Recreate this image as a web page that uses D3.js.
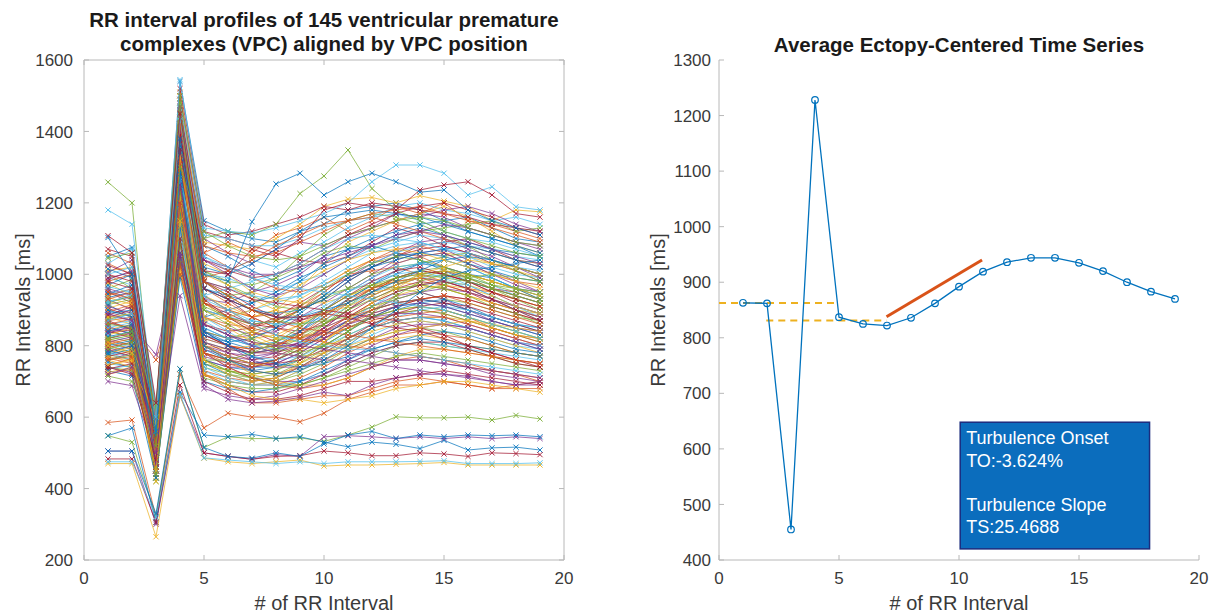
<!DOCTYPE html>
<html>
<head>
<meta charset="utf-8">
<script src="https://cdnjs.cloudflare.com/ajax/libs/d3/7.8.5/d3.min.js"></script>
<style>
  html, body { margin: 0; padding: 0; background: #fff; }
  svg { display: block; font-family: Helvetica, "Liberation Sans", Arial, sans-serif; }
  .tick-label { fill: #3a3a3a; font-size: 17px; }
  .axis-label { fill: #3a3a3a; font-size: 20px; }
  .title { fill: #1a1a1a; font-weight: bold; font-size: 20.5px; }
</style>
</head>
<body>
<svg id="fig" width="1212" height="613"></svg>
<script>
/* RR interval profiles (left) and averaged ectopy-centered series (right) */

// beat index along the x axis
const rrIndex = [1, 2, 3, 4, 5, 6, 7, 8, 9, 10, 11, 12, 13, 14, 15, 16, 17, 18, 19];

// MATLAB default line colour order
const matlabColors = ['#0072BD', '#D95319', '#EDB120', '#7E2F8E', '#77AC30', '#4DBEEE', '#A2142F'];

// individual VPC profiles (ms)
const profilesOutliers = [
    [1258, 1200, 520, 1300, 1100, 1120, 1110, 1140, 1226, 1275, 1348, 1240, 1180, 1150, 1120, 1100, 1080, 1060, 1050],
    [1180, 1140, 600, 1545, 1130, 1120, 1115, 1130, 1150, 1170, 1200, 1259, 1306, 1306, 1283, 1222, 1245, 1189, 1180],
    [1108, 1060, 640, 1450, 1010, 1000, 1070, 1050, 1100, 1180, 1200, 1190, 1180, 1236, 1250, 1259, 1222, 1170, 1160],
    [1103, 1000, 560, 1380, 1000, 980, 1147, 1253, 1283, 1222, 1259, 1283, 1259, 1230, 1236, 1180, 1150, 1130, 1110]
];

const profilesMainA = [
    [1050, 1075, 610, 1540, 1150, 1120, 1100, 1090, 1120, 1140, 1180, 1190, 1200, 1180, 1150, 1160, 1130, 1100, 1090],
    [1010, 1020, 480, 1450, 1090, 1080, 1070, 1100, 1140, 1190, 1210, 1215, 1200, 1220, 1205, 1190, 1150, 1180, 1175],
    [1000, 960, 560, 1300, 980, 940, 950, 990, 1050, 1110, 1150, 1170, 1160, 1140, 1110, 1080, 1040, 1020, 1000],
    [990, 1005, 450, 1500, 1120, 1100, 1080, 1060, 1040, 1030, 1050, 1090, 1130, 1110, 1080, 1060, 1030, 1010, 980],
    [975, 940, 600, 1380, 940, 900, 880, 900, 960, 1030, 1090, 1120, 1150, 1170, 1190, 1160, 1120, 1080, 1060],
    [960, 985, 520, 1420, 1010, 980, 970, 990, 1020, 1060, 1080, 1070, 1100, 1120, 1130, 1140, 1150, 1120, 1130],
    [950, 920, 470, 1200, 900, 880, 860, 870, 900, 930, 980, 1020, 1050, 1080, 1090, 1100, 1070, 1040, 1020],
    [940, 960, 590, 1470, 1060, 1020, 990, 960, 950, 970, 1010, 1040, 1060, 1050, 1020, 1000, 980, 960, 950],
    [930, 900, 540, 1330, 880, 850, 830, 840, 880, 920, 960, 1000, 1040, 1060, 1070, 1040, 1010, 980, 950],
    [925, 935, 430, 1250, 900, 880, 900, 920, 940, 980, 1020, 1060, 1080, 1090, 1070, 1050, 1020, 1000, 990],
    [915, 880, 500, 1160, 850, 820, 800, 810, 840, 880, 930, 970, 1010, 1030, 1020, 1000, 990, 960, 940],
    [905, 925, 620, 1510, 1030, 1000, 950, 930, 920, 920, 940, 960, 980, 970, 960, 940, 920, 900, 890],
    [900, 870, 460, 1100, 820, 800, 780, 790, 830, 870, 910, 950, 980, 990, 1000, 970, 940, 910, 880],
    [890, 900, 560, 1380, 960, 940, 920, 940, 980, 1030, 1070, 1080, 1060, 1040, 1010, 980, 960, 940, 920],
    [880, 860, 510, 1280, 860, 830, 810, 800, 820, 850, 880, 920, 950, 970, 990, 1000, 980, 960, 930],
    [875, 890, 420, 1220, 840, 820, 840, 860, 900, 940, 960, 970, 960, 950, 930, 920, 900, 880, 870],
    [870, 845, 580, 1450, 980, 930, 880, 850, 840, 860, 890, 930, 960, 980, 970, 950, 920, 900, 880],
    [860, 875, 495, 1180, 820, 800, 790, 800, 830, 880, 930, 960, 990, 1000, 1010, 990, 960, 940, 920],
    [855, 830, 450, 1050, 790, 770, 760, 780, 810, 850, 880, 910, 940, 950, 930, 900, 870, 850, 830],
    [850, 865, 530, 1320, 900, 880, 870, 860, 880, 910, 950, 990, 1020, 1030, 1040, 1020, 990, 960, 950],
    [845, 820, 610, 1400, 940, 900, 860, 830, 820, 840, 860, 890, 910, 930, 940, 930, 910, 890, 870],
    [840, 850, 470, 1150, 800, 780, 770, 780, 810, 850, 900, 940, 970, 990, 980, 960, 930, 900, 880],
    [830, 815, 520, 1250, 850, 820, 800, 810, 850, 900, 950, 980, 1000, 1010, 990, 960, 930, 900, 870],
    [825, 840, 440, 1030, 760, 740, 730, 740, 770, 810, 850, 880, 900, 920, 930, 910, 880, 860, 840],
    [820, 800, 560, 1350, 900, 870, 840, 820, 810, 820, 850, 880, 900, 910, 900, 880, 860, 840, 820],
    [815, 830, 500, 1200, 810, 790, 780, 790, 820, 860, 900, 930, 960, 970, 960, 940, 910, 890, 860],
    [810, 790, 460, 1120, 780, 760, 750, 760, 790, 830, 870, 900, 920, 930, 920, 900, 880, 860, 840],
    [805, 820, 590, 1460, 960, 920, 880, 850, 830, 830, 850, 870, 890, 900, 890, 870, 850, 830, 820],
    [800, 780, 430, 1000, 740, 720, 710, 720, 750, 790, 830, 860, 890, 900, 890, 870, 850, 830, 810],
    [795, 810, 540, 1270, 830, 800, 780, 780, 800, 840, 880, 920, 950, 970, 980, 960, 930, 900, 870],
    [790, 770, 510, 1150, 780, 750, 730, 720, 740, 770, 810, 850, 880, 890, 900, 880, 850, 830, 810],
    [785, 800, 470, 1080, 760, 740, 740, 750, 780, 820, 860, 880, 890, 890, 880, 860, 840, 820, 800],
    [780, 760, 600, 1370, 880, 840, 800, 780, 770, 780, 800, 830, 860, 870, 860, 840, 820, 800, 790],
    [775, 790, 450, 1060, 750, 720, 700, 710, 740, 780, 820, 850, 870, 880, 870, 850, 830, 810, 790],
    [770, 755, 520, 1220, 800, 770, 750, 740, 750, 780, 810, 840, 860, 870, 860, 840, 820, 800, 780],
    [760, 775, 480, 1100, 760, 730, 710, 700, 720, 750, 790, 820, 840, 850, 840, 820, 800, 780, 770],
    [755, 740, 570, 1300, 840, 800, 770, 750, 740, 750, 770, 790, 810, 830, 840, 830, 810, 790, 780],
    [745, 760, 430, 1010, 720, 700, 690, 700, 730, 760, 790, 810, 820, 830, 820, 800, 790, 780, 770],
    [740, 730, 500, 1180, 760, 730, 710, 690, 690, 710, 740, 770, 800, 810, 800, 790, 770, 750, 740],
    [735, 750, 460, 1040, 720, 690, 670, 670, 690, 720, 750, 780, 800, 810, 810, 790, 770, 750, 740],
    [720, 735, 540, 1250, 780, 740, 710, 690, 680, 690, 710, 740, 760, 770, 760, 750, 730, 720, 710],
    [700, 688, 490, 940, 680, 660, 650, 660, 680, 700, 720, 740, 760, 760, 750, 740, 720, 710, 700],
    [1030, 1070, 630, 1480, 1110, 1100, 1080, 1080, 1100, 1130, 1150, 1160, 1170, 1150, 1120, 1100, 1090, 1070, 1050],
    [1015, 990, 550, 1350, 1020, 1000, 1030, 1070, 1120, 1160, 1170, 1180, 1170, 1160, 1140, 1120, 1100, 1080, 1060],
    [985, 1010, 500, 1400, 1040, 1020, 1000, 1000, 1020, 1040, 1060, 1080, 1100, 1120, 1140, 1130, 1110, 1090, 1080],
    [965, 950, 580, 1360, 980, 960, 940, 930, 940, 970, 1000, 1030, 1060, 1080, 1090, 1080, 1070, 1050, 1040],
    [945, 970, 450, 1290, 960, 930, 900, 890, 900, 930, 980, 1020, 1050, 1060, 1050, 1030, 1010, 990, 980],
    [935, 915, 610, 1430, 1000, 970, 930, 900, 880, 890, 910, 940, 970, 990, 1010, 1000, 980, 960, 940],
    [920, 940, 480, 1230, 910, 880, 860, 870, 910, 960, 1000, 1030, 1050, 1040, 1020, 1000, 970, 950, 930],
    [885, 910, 530, 1310, 920, 890, 860, 850, 870, 900, 940, 980, 1010, 1020, 1000, 980, 950, 930, 910],
    [865, 850, 760, 1000, 780, 760, 740, 760, 790, 840, 880, 900, 920, 930, 940, 920, 900, 880, 860],
    [835, 855, 775, 1060, 810, 790, 780, 790, 810, 840, 870, 890, 910, 920, 910, 890, 870, 850, 840],
    [1000, 980, 560, 1380, 980, 960, 930, 920, 910, 900, 890, 880, 870, 850, 830, 800, 780, 760, 740],
    [950, 930, 510, 1320, 920, 880, 850, 830, 820, 810, 800, 790, 780, 770, 760, 740, 730, 720, 700],
    [910, 890, 470, 1250, 860, 830, 800, 780, 770, 760, 760, 750, 740, 730, 720, 710, 700, 690, 690],
    [870, 890, 600, 1430, 940, 900, 860, 830, 810, 800, 790, 790, 780, 770, 760, 750, 740, 730, 720],
    [780, 800, 550, 1280, 800, 760, 730, 720, 730, 760, 800, 850, 900, 950, 990, 1010, 1020, 1030, 1040],
    [760, 740, 500, 1200, 760, 720, 700, 710, 750, 810, 870, 920, 960, 1000, 1020, 1040, 1030, 1020, 1000],
    [820, 840, 630, 1480, 900, 860, 820, 790, 780, 800, 840, 890, 940, 980, 1000, 990, 970, 960, 950],
    [740, 720, 480, 1100, 700, 670, 650, 650, 660, 680, 700, 700, 710, 720, 730, 720, 710, 700, 690],
    [760, 770, 520, 1200, 720, 680, 640, 640, 650, 660, 660, 680, 700, 710, 700, 690, 680, 680, 680],
    [800, 780, 450, 1150, 720, 690, 660, 650, 650, 640, 650, 660, 680, 690, 700, 700, 690, 680, 670],
    [720, 740, 500, 1050, 690, 650, 640, 645, 655, 670, 660, 690, 710, 720, 720, 715, 700, 690, 700]
];

const profilesMainB = [
    [1030, 1000, 470, 1410, 1060, 1090, 1060, 1110, 1130, 1160, 1120, 1150, 1190, 1170, 1200, 1150, 1140, 1120, 1100],
    [1005, 1040, 590, 1490, 1100, 1060, 1030, 1070, 1090, 1080, 1110, 1130, 1150, 1170, 1160, 1130, 1110, 1090, 1070],
    [990, 970, 540, 1370, 1050, 1010, 1040, 1020, 1060, 1090, 1130, 1160, 1190, 1200, 1180, 1170, 1150, 1160, 1140],
    [970, 1000, 610, 1460, 1080, 1050, 1010, 980, 1010, 1050, 1070, 1100, 1120, 1140, 1150, 1120, 1100, 1080, 1050],
    [955, 930, 500, 1260, 930, 920, 950, 970, 1000, 1050, 1100, 1130, 1170, 1160, 1180, 1190, 1170, 1140, 1120],
    [945, 955, 570, 1390, 1000, 990, 960, 950, 980, 1000, 1040, 1070, 1090, 1110, 1100, 1080, 1060, 1040, 1030],
    [935, 950, 460, 1190, 880, 900, 920, 950, 990, 1020, 1050, 1080, 1110, 1130, 1110, 1090, 1070, 1060, 1050],
    [925, 905, 550, 1340, 940, 910, 880, 900, 930, 970, 1010, 1040, 1030, 1050, 1060, 1050, 1030, 1010, 990],
    [915, 930, 600, 1440, 1010, 970, 940, 910, 900, 930, 960, 1000, 1020, 1030, 1050, 1060, 1040, 1010, 980],
    [905, 880, 480, 1210, 860, 840, 850, 880, 920, 960, 990, 1020, 1050, 1070, 1080, 1060, 1040, 1020, 1000],
    [895, 915, 530, 1300, 920, 900, 880, 890, 910, 950, 1000, 1040, 1070, 1080, 1060, 1030, 1000, 980, 970],
    [885, 870, 440, 1130, 840, 820, 830, 860, 900, 940, 990, 1030, 1060, 1090, 1100, 1070, 1050, 1020, 990],
    [880, 900, 590, 1420, 980, 950, 910, 880, 870, 890, 920, 960, 990, 1010, 1000, 980, 960, 950, 930],
    [870, 880, 510, 1240, 880, 860, 850, 870, 900, 950, 1000, 1010, 1020, 1000, 980, 960, 950, 930, 910],
    [865, 845, 470, 1170, 830, 800, 780, 790, 840, 900, 950, 990, 1030, 1050, 1060, 1030, 1000, 970, 950],
    [860, 870, 560, 1360, 930, 900, 870, 860, 860, 880, 920, 950, 970, 990, 1010, 990, 970, 940, 920],
    [850, 835, 500, 1200, 840, 810, 790, 800, 840, 890, 930, 970, 1000, 1030, 1040, 1020, 990, 960, 930],
    [845, 860, 420, 1060, 800, 790, 800, 820, 860, 900, 940, 970, 980, 990, 980, 970, 950, 930, 910],
    [840, 825, 580, 1390, 920, 880, 840, 820, 830, 860, 900, 940, 970, 1000, 1010, 1000, 980, 960, 940],
    [835, 845, 480, 1140, 810, 780, 760, 770, 800, 850, 900, 950, 990, 1010, 1000, 980, 950, 920, 900],
    [830, 850, 540, 1280, 860, 830, 820, 830, 860, 890, 920, 950, 960, 970, 960, 940, 920, 900, 880],
    [825, 810, 460, 1090, 780, 760, 740, 760, 800, 860, 910, 960, 990, 1010, 1020, 990, 960, 930, 900],
    [820, 835, 600, 1410, 930, 880, 840, 810, 800, 820, 850, 880, 910, 930, 940, 930, 910, 890, 870],
    [815, 800, 520, 1230, 830, 800, 790, 800, 830, 870, 920, 960, 980, 990, 970, 950, 930, 910, 890],
    [810, 825, 450, 1050, 770, 750, 740, 750, 780, 820, 860, 900, 930, 950, 960, 950, 930, 910, 890],
    [805, 790, 570, 1330, 870, 830, 800, 790, 800, 830, 870, 910, 950, 970, 980, 970, 940, 910, 890],
    [800, 815, 490, 1170, 800, 770, 750, 760, 790, 830, 870, 900, 920, 930, 920, 900, 880, 860, 850],
    [795, 775, 430, 1020, 750, 730, 720, 730, 770, 810, 860, 900, 940, 960, 970, 960, 940, 910, 890],
    [790, 805, 550, 1290, 840, 800, 770, 760, 770, 800, 830, 860, 880, 900, 910, 900, 880, 860, 850],
    [785, 770, 510, 1190, 790, 760, 740, 740, 760, 800, 840, 880, 910, 920, 910, 890, 870, 850, 830],
    [780, 795, 620, 1450, 920, 870, 830, 800, 790, 800, 820, 850, 870, 880, 880, 870, 850, 830, 820],
    [775, 760, 470, 1080, 750, 730, 720, 730, 760, 800, 840, 880, 900, 910, 900, 880, 860, 840, 820],
    [770, 785, 530, 1240, 800, 770, 750, 750, 760, 790, 820, 860, 890, 910, 920, 910, 890, 870, 850],
    [765, 750, 450, 1030, 730, 710, 700, 710, 740, 780, 820, 850, 870, 880, 880, 860, 840, 820, 800],
    [760, 780, 580, 1350, 840, 800, 760, 740, 740, 760, 790, 820, 850, 860, 860, 850, 830, 810, 800],
    [750, 740, 500, 1140, 740, 710, 690, 700, 730, 770, 810, 850, 870, 880, 870, 850, 830, 810, 800],
    [745, 765, 440, 1020, 720, 700, 690, 690, 710, 740, 780, 810, 830, 840, 830, 820, 800, 780, 770],
    [740, 725, 560, 1260, 780, 740, 710, 700, 700, 720, 760, 800, 830, 850, 860, 850, 830, 810, 790],
    [735, 745, 490, 1120, 730, 700, 690, 690, 700, 720, 750, 780, 800, 810, 800, 790, 780, 770, 760],
    [730, 715, 430, 990, 700, 680, 670, 680, 700, 730, 760, 790, 810, 820, 810, 800, 790, 780, 770],
    [725, 740, 600, 1380, 800, 760, 720, 700, 690, 690, 710, 740, 770, 790, 790, 780, 770, 760, 750],
    [715, 700, 520, 1160, 710, 690, 680, 680, 690, 710, 730, 750, 770, 780, 770, 760, 750, 740, 730],
    [1070, 1050, 580, 1520, 1140, 1110, 1120, 1140, 1160, 1190, 1180, 1200, 1190, 1180, 1170, 1160, 1140, 1130, 1120],
    [1060, 1030, 500, 1430, 1080, 1060, 1050, 1060, 1090, 1120, 1150, 1170, 1180, 1190, 1170, 1150, 1130, 1110, 1090],
    [1045, 1060, 620, 1500, 1120, 1080, 1050, 1040, 1050, 1080, 1110, 1130, 1150, 1160, 1150, 1130, 1110, 1090, 1080],
    [1025, 1000, 540, 1390, 1040, 1010, 990, 1000, 1030, 1070, 1110, 1140, 1170, 1190, 1200, 1180, 1160, 1130, 1110],
    [980, 1000, 460, 1320, 990, 1010, 1040, 1080, 1110, 1140, 1150, 1160, 1140, 1120, 1100, 1080, 1060, 1040, 1030],
    [960, 940, 610, 1470, 1040, 1000, 960, 940, 960, 1000, 1040, 1080, 1110, 1120, 1110, 1090, 1070, 1050, 1030],
    [920, 945, 520, 1270, 940, 960, 980, 1000, 1030, 1070, 1100, 1110, 1100, 1090, 1070, 1060, 1040, 1020, 1010],
    [900, 880, 570, 1360, 960, 930, 900, 880, 880, 900, 920, 950, 980, 1010, 1040, 1050, 1040, 1020, 1000],
    [880, 890, 480, 1190, 870, 880, 900, 930, 970, 1010, 1040, 1060, 1070, 1060, 1040, 1020, 1000, 980, 960],
    [860, 850, 620, 1440, 980, 940, 900, 870, 860, 870, 880, 910, 930, 950, 970, 990, 1000, 990, 980],
    [840, 860, 500, 1130, 830, 810, 820, 850, 890, 940, 990, 1020, 1040, 1060, 1070, 1080, 1060, 1040, 1020],
    [810, 790, 580, 1330, 880, 850, 810, 780, 770, 780, 800, 820, 840, 850, 860, 870, 860, 850, 840],
    [790, 810, 440, 1040, 760, 760, 780, 810, 850, 900, 940, 970, 990, 1000, 990, 980, 960, 940, 920],
    [980, 960, 520, 1350, 960, 930, 900, 880, 880, 890, 880, 860, 850, 840, 820, 800, 780, 760, 750],
    [930, 950, 600, 1420, 980, 940, 900, 870, 850, 840, 830, 820, 810, 800, 790, 780, 770, 760, 750],
    [890, 870, 470, 1200, 860, 830, 810, 800, 800, 790, 780, 770, 760, 760, 750, 740, 730, 720, 710],
    [1000, 1020, 560, 1440, 1050, 1020, 990, 970, 960, 950, 940, 930, 920, 910, 900, 880, 860, 840, 820]
];

const profilesLow = [
    [585, 592, 320, 720, 570, 611, 600, 600, 587, 611, 650, 670, 690, 690, 700, 690, 680, 690, 700],
    [548, 530, 320, 735, 515, 545, 540, 540, 542, 532, 550, 572, 601, 598, 598, 600, 592, 605, 595],
    [548, 570, 305, 670, 550, 545, 552, 540, 545, 530, 517, 530, 524, 512, 535, 508, 514, 516, 508],
    [505, 505, 300, 660, 500, 490, 482, 495, 490, 545, 548, 545, 540, 545, 540, 545, 540, 545, 540],
    [483, 483, 305, 690, 500, 490, 482, 490, 492, 505, 500, 492, 492, 500, 497, 490, 500, 498, 495],
    [470, 470, 265, 660, 485, 475, 470, 475, 480, 463, 466, 466, 468, 470, 473, 466, 466, 466, 466],
    [475, 475, 320, 665, 486, 480, 475, 470, 475, 470, 475, 475, 475, 476, 478, 470, 470, 470, 472],
    [505, 505, 330, 735, 515, 490, 485, 500, 490, 525, 550, 560, 540, 550, 545, 550, 548, 550, 545]
];

// averaged ectopy-centered time series (right panel, ms)
const averageRR = [863, 862, 455, 1228, 837, 825, 822, 836, 862, 892, 919, 936, 944, 944, 935, 920, 900, 883, 870];

// turbulence onset reference levels: [x start, x end, level]
const onsetPreLevel = [0, 4.93, 862.5];
const onsetPostLevel = [1.97, 6.98, 831];
// turbulence slope regression segment
const slopeX = [6.98, 10.96];
const slopeY = [838, 940];

const xTicks = [0, 5, 10, 15, 20];
const leftYTicks = [200, 400, 600, 800, 1000, 1200, 1400, 1600];
const rightYTicks = [400, 500, 600, 700, 800, 900, 1000, 1100, 1200, 1300];

const leftTitle = ['RR interval profiles of 145 ventricular premature', 'complexes (VPC) aligned by VPC position'];
const rightTitle = 'Average Ectopy-Centered Time Series';
const boxLines = ['Turbulence Onset', 'TO:-3.624%', '', 'Turbulence Slope', 'TS:25.4688'];
const boxExtent = { x: [10.05, 17.94], y: [420, 648] };

(function() {
    'use strict';

    const svg = d3.select('#fig');
    const axisColor = '#b8b8b8';
    const tickLen = 5;

    /**
     * Draw axis frame with inward ticks, MATLAB style
     */
    function drawAxes(g, x, y, yTicks, boxed, labelGap) {
        const [x0, x1] = x.range();
        const [y0, y1] = y.range();

        // bottom + left axis lines
        g.append('line').attr('x1', x0).attr('x2', x1).attr('y1', y0).attr('y2', y0)
            .attr('stroke', axisColor);
        g.append('line').attr('x1', x0).attr('x2', x0).attr('y1', y0).attr('y2', y1)
            .attr('stroke', axisColor);
        if (boxed) {
            g.append('line').attr('x1', x0).attr('x2', x1).attr('y1', y1).attr('y2', y1)
                .attr('stroke', axisColor);
            g.append('line').attr('x1', x1).attr('x2', x1).attr('y1', y0).attr('y2', y1)
                .attr('stroke', axisColor);
        }

        xTicks.forEach(t => {
            g.append('line').attr('x1', x(t)).attr('x2', x(t))
                .attr('y1', y0).attr('y2', y0 - tickLen).attr('stroke', axisColor);
            if (boxed) {
                g.append('line').attr('x1', x(t)).attr('x2', x(t))
                    .attr('y1', y1).attr('y2', y1 + tickLen).attr('stroke', axisColor);
            }
            g.append('text').attr('class', 'tick-label')
                .attr('x', x(t)).attr('y', y0 + 24)
                .attr('text-anchor', 'middle').text(t);
        });

        yTicks.forEach(t => {
            g.append('line').attr('x1', x0).attr('x2', x0 + tickLen)
                .attr('y1', y(t)).attr('y2', y(t)).attr('stroke', axisColor);
            if (boxed) {
                g.append('line').attr('x1', x1).attr('x2', x1 - tickLen)
                    .attr('y1', y(t)).attr('y2', y(t)).attr('stroke', axisColor);
            }
            g.append('text').attr('class', 'tick-label')
                .attr('x', x0 - labelGap).attr('y', y(t))
                .attr('dy', '0.36em')
                .attr('text-anchor', 'end').text(t);
        });

        g.append('text').attr('class', 'axis-label')
            .attr('x', (x0 + x1) / 2).attr('y', 610)
            .attr('text-anchor', 'middle').text('# of RR Interval');
    }

    function yLabel(xPos) {
        svg.append('text').attr('class', 'axis-label')
            .attr('transform', `translate(${xPos}, 310) rotate(-90)`)
            .attr('text-anchor', 'middle')
            .text('RR Intervals [ms]');
    }

    /**
     * Left panel: all VPC profiles
     */
    function renderProfiles() {
        const x = d3.scaleLinear().domain([0, 20]).range([84, 564]);
        const y = d3.scaleLinear().domain([200, 1600]).range([560, 60]);
        const g = svg.append('g');

        // interleave groups so the colour cycle spreads over the band
        const profiles = [];
        const n = Math.max(profilesMainA.length, profilesMainB.length);
        for (let i = 0; i < n; i++) {
            if (profilesMainA[i]) profiles.push(profilesMainA[i]);
            if (profilesMainB[i]) profiles.push(profilesMainB[i]);
            if (i % 8 === 3 && profilesLow[(i - 3) / 8]) profiles.push(profilesLow[(i - 3) / 8]);
        }
        profilesOutliers.forEach(p => profiles.push(p));

        const line = d3.line().x((d, i) => x(rrIndex[i])).y(d => y(d));
        const color = i => matlabColors[i % matlabColors.length];
        const m = 2.6;

        profiles.forEach((p, i) => {
            const s = g.append('g').attr('stroke', color(i)).attr('opacity', 0.9);
            s.append('path').attr('d', line(p))
                .attr('fill', 'none').attr('stroke-width', 0.8);
            s.selectAll('path.mk').data(p).enter().append('path')
                .attr('class', 'mk')
                .attr('stroke-width', 1)
                .attr('d', (d, j) => {
                    const cx = x(rrIndex[j]), cy = y(d);
                    return `M${cx - m},${cy - m}L${cx + m},${cy + m}M${cx - m},${cy + m}L${cx + m},${cy - m}`;
                });
        });

        drawAxes(g, x, y, leftYTicks, true, 11);
        yLabel(30);

        leftTitle.forEach((t, i) => {
            svg.append('text').attr('class', 'title')
                .attr('x', (x(0) + x(20)) / 2).attr('y', 27 + i * 24)
                .attr('text-anchor', 'middle')
                .text(t);
        });
    }

    /**
     * Right panel: average series with TO / TS annotations
     */
    function renderAverage() {
        const x = d3.scaleLinear().domain([0, 20]).range([719, 1199]);
        const y = d3.scaleLinear().domain([400, 1300]).range([560, 60]);
        const g = svg.append('g');

        drawAxes(g, x, y, rightYTicks, false, 8);
        yLabel(665);

        // onset reference levels
        [onsetPreLevel, onsetPostLevel].forEach(l => {
            g.append('line')
                .attr('x1', x(l[0])).attr('x2', x(l[1]))
                .attr('y1', y(l[2])).attr('y2', y(l[2]))
                .attr('stroke', '#EDB120').attr('stroke-width', 2)
                .attr('stroke-dasharray', '7,5');
        });

        const line = d3.line().x((d, i) => x(rrIndex[i])).y(d => y(d));
        g.append('path').attr('d', line(averageRR))
            .attr('fill', 'none').attr('stroke', '#0072BD').attr('stroke-width', 1.3);

        g.selectAll('circle.pt').data(averageRR).enter().append('circle')
            .attr('class', 'pt')
            .attr('cx', (d, i) => x(rrIndex[i])).attr('cy', d => y(d))
            .attr('r', 3.3)
            .attr('fill', 'none').attr('stroke', '#0072BD').attr('stroke-width', 1.2);

        // slope segment
        g.append('line')
            .attr('x1', x(slopeX[0])).attr('x2', x(slopeX[1]))
            .attr('y1', y(slopeY[0])).attr('y2', y(slopeY[1]))
            .attr('stroke', '#D95319').attr('stroke-width', 3);

        // text box
        const bx = x(boxExtent.x[0]), bw = x(boxExtent.x[1]) - bx;
        const by = y(boxExtent.y[1]), bh = y(boxExtent.y[0]) - by;
        g.append('rect')
            .attr('x', bx).attr('y', by).attr('width', bw).attr('height', bh)
            .attr('fill', '#0B6DBD').attr('stroke', '#1B2C7E').attr('stroke-width', 1.5);

        boxLines.forEach((t, i) => {
            g.append('text')
                .attr('x', bx + 6).attr('y', by + 22 + i * 22.3)
                .attr('fill', '#fff')
                .style('font-size', '18px')
                .text(t);
        });

        svg.append('text').attr('class', 'title')
            .attr('x', (x(0) + x(20)) / 2).attr('y', 52)
            .attr('text-anchor', 'middle')
            .text(rightTitle);
    }

    renderProfiles();
    renderAverage();
})();
</script>
</body>
</html>
